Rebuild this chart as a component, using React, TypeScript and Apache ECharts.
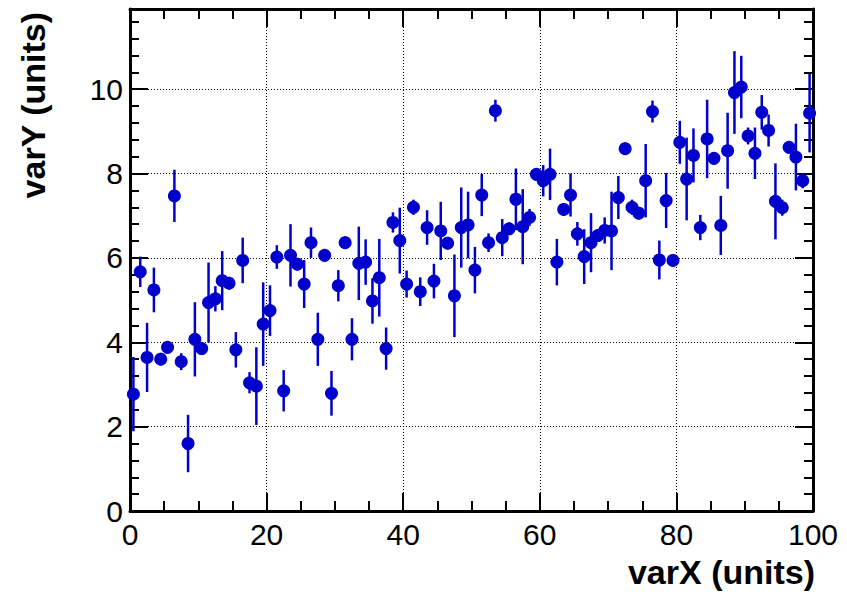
import React, { useEffect, useRef } from "react";
import * as echarts from "echarts";

const xValues = [
  0.5, 1.5, 2.5, 3.5, 4.5, 5.5, 6.5, 7.5, 8.5, 9.5,
  10.5, 11.5, 12.5, 13.5, 14.5, 15.5, 16.5, 17.5, 18.5, 19.5,
  20.5, 21.5, 22.5, 23.5, 24.5, 25.5, 26.5, 27.5, 28.5, 29.5,
  30.5, 31.5, 32.5, 33.5, 34.5, 35.5, 36.5, 37.5, 38.5, 39.5,
  40.5, 41.5, 42.5, 43.5, 44.5, 45.5, 46.5, 47.5, 48.5, 49.5,
  50.5, 51.5, 52.5, 53.5, 54.5, 55.5, 56.5, 57.5, 58.5, 59.5,
  60.5, 61.5, 62.5, 63.5, 64.5, 65.5, 66.5, 67.5, 68.5, 69.5,
  70.5, 71.5, 72.5, 73.5, 74.5, 75.5, 76.5, 77.5, 78.5, 79.5,
  80.5, 81.5, 82.5, 83.5, 84.5, 85.5, 86.5, 87.5, 88.5, 89.5,
  90.5, 91.5, 92.5, 93.5, 94.5, 95.5, 96.5, 97.5, 98.5, 99.5,
];

const yValues = [
  2.77, 5.67, 3.64, 5.24, 3.6, 3.88, 7.47, 3.54, 1.6, 4.07,
  3.85, 4.94, 5.03, 5.46, 5.4, 3.82, 5.94, 3.04, 2.96, 4.43,
  4.75, 6.02, 2.85, 6.06, 5.85, 5.38, 6.36, 4.07, 6.06, 2.79,
  5.34, 6.36, 4.07, 5.87, 5.9, 4.98, 5.53, 3.85, 6.84, 6.41,
  5.38, 7.2, 5.2, 6.72, 5.45, 6.64, 6.35, 5.1, 6.72, 6.78,
  5.71, 7.49, 6.36, 9.49, 6.48, 6.69, 7.39, 6.74, 6.96, 7.98,
  7.83, 7.98, 5.9, 7.15, 7.49, 6.57, 6.03, 6.36, 6.53, 6.65,
  6.64, 7.43, 8.59, 7.2, 7.06, 7.83, 9.47, 5.95, 7.36, 5.94,
  8.74, 7.87, 8.43, 6.72, 8.82, 8.36, 6.77, 8.54, 9.92, 10.05,
  8.89, 8.48, 9.45, 9.02, 7.34, 7.19, 8.62, 8.39, 7.83, 9.43,
];

const yErrors = [
  0.88, 0.36, 0.82, 0.53, 0.15, 0.15, 0.62, 0.2, 0.68, 0.88,
  0.15, 0.95, 0.3, 0.7, 0.15, 0.42, 0.54, 0.25, 0.92, 0.99,
  0.6, 0.28, 0.49, 0.74, 0.15, 0.57, 0.36, 0.63, 0.15, 0.53,
  0.37, 0.15, 0.5, 0.87, 0.54, 0.54, 0.92, 0.5, 0.24, 0.78,
  0.32, 0.18, 0.34, 0.41, 0.41, 0.69, 0.15, 0.98, 0.95, 0.79,
  0.55, 0.5, 0.22, 0.26, 0.44, 0.15, 0.73, 0.89, 0.2, 0.15,
  0.37, 0.61, 0.55, 0.15, 0.51, 0.28, 0.65, 0.7, 0.15, 0.31,
  0.93, 0.51, 0.15, 0.18, 0.15, 0.87, 0.26, 0.46, 0.65, 0.15,
  0.51, 0.98, 0.64, 0.3, 0.93, 0.15, 0.7, 0.9, 0.98, 0.74,
  0.2, 0.61, 0.41, 0.38, 0.9, 0.19, 0.15, 0.79, 0.18, 0.93,
];

const xTitle = "varX (units)";
const yTitle = "varY (units)";

const FONT = "'Liberation Sans', Arial, Helvetica, sans-serif";
const BLUE = "#0000cc";

export default function App() {
  const ref = useRef<HTMLDivElement>(null);

  useEffect(() => {
    if (!ref.current) return;
    const chart = echarts.init(ref.current, null, { renderer: "svg" });

    const points = xValues.map((x, i) => [x, yValues[i]]);
    const bars = xValues.map((x, i) => [x, yValues[i], yErrors[i]]);

    const baseX = {
      type: "value" as const,
      min: 0,
      max: 100,
      interval: 20,
      axisLine: { show: true, onZero: false, lineStyle: { color: "#000", width: 3 } },
      axisTick: { show: true, inside: true, length: 18, lineStyle: { color: "#000", width: 2 } },
      minorTick: { show: true, splitNumber: 4, length: 10, lineStyle: { color: "#000", width: 2 } },
    };
    const baseY = {
      type: "value" as const,
      min: 0,
      max: 11.9,
      interval: 2,
      axisLine: { show: true, onZero: false, lineStyle: { color: "#000", width: 3 } },
      axisTick: { show: true, inside: true, length: 18, lineStyle: { color: "#000", width: 2 } },
      minorTick: { show: true, splitNumber: 5, length: 9, lineStyle: { color: "#000", width: 2 } },
    };

    chart.setOption({
      animation: false,
      backgroundColor: "#ffffff",
      grid: { left: 130, right: 34, top: 9, bottom: 86, containLabel: false },
      xAxis: [
        {
          ...baseX,
          position: "bottom",
          axisLabel: {
            show: true,
            margin: 8,
            color: "#000",
            fontFamily: FONT,
            fontSize: 30,
          },
          splitLine: { show: true, lineStyle: { color: "#000", width: 1, type: [1, 2] } },
        },
        {
          ...baseX,
          position: "top",
          axisLabel: { show: false },
          splitLine: { show: false },
        },
      ],
      yAxis: [
        {
          ...baseY,
          position: "left",
          axisLabel: {
            show: true,
            margin: 7,
            color: "#000",
            fontFamily: FONT,
            fontSize: 30,
            showMaxLabel: false,
          },
          splitLine: { show: true, lineStyle: { color: "#000", width: 1, type: [1, 2] } },
        },
        {
          ...baseY,
          position: "right",
          axisLabel: { show: false },
          splitLine: { show: false },
        },
      ],
      graphic: [
        {
          type: "text",
          x: 815,
          y: 572,
          style: {
            text: xTitle,
            font: `bold 34px ${FONT}`,
            fill: "#000",
            textAlign: "right",
            textVerticalAlign: "middle",
          },
        },
        {
          type: "text",
          x: 33,
          y: 12,
          rotation: Math.PI / 2,
          style: {
            text: yTitle,
            font: `bold 34px ${FONT}`,
            fill: "#000",
            textAlign: "right",
            textVerticalAlign: "middle",
          },
        },
      ],
      series: [
        {
          type: "custom",
          xAxisIndex: 0,
          yAxisIndex: 0,
          data: bars,
          z: 2,
          renderItem: (params: any, api: any) => {
            const x = api.value(0);
            const y = api.value(1);
            const e = api.value(2);
            const lo = api.coord([x, y - e]);
            const hi = api.coord([x, y + e]);
            return {
              type: "line",
              shape: { x1: lo[0], y1: lo[1], x2: hi[0], y2: hi[1] },
              style: { stroke: BLUE, lineWidth: 2.5 },
            };
          },
        },
        {
          type: "scatter",
          xAxisIndex: 0,
          yAxisIndex: 0,
          data: points,
          symbol: "circle",
          symbolSize: 13,
          itemStyle: { color: BLUE, opacity: 1 },
          z: 3,
        },
      ],
    });

    return () => {
      chart.dispose();
    };
  }, []);

  return (
    <div
      ref={ref}
      style={{ position: "fixed", left: 0, top: 0, width: 847, height: 597, background: "#fff" }}
    />
  );
}
